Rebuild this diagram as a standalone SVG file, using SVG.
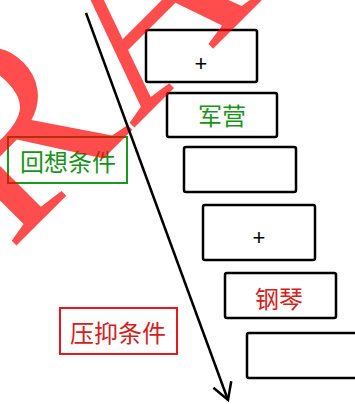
<svg xmlns="http://www.w3.org/2000/svg" width="355" height="404" viewBox="0 0 355 404">
<style>
.box{fill:#fff;stroke:#000;stroke-width:2.5}
.plus{font-family:"Liberation Sans",Arial,sans-serif;font-size:22px;fill:#000;text-anchor:middle;dominant-baseline:central}
.cjk{font-family:"Noto Sans CJK SC",sans-serif;font-size:24px;text-anchor:middle;dominant-baseline:central}
.green{fill:#179317}
.red{fill:#d42020}
.wm{font-family:"Liberation Serif",serif;font-size:260px;fill:#ff0000;fill-opacity:0.7}
</style>
<defs>
<marker id="arr" viewBox="0 0 22 22" markerWidth="22" markerHeight="22" refX="19" refY="11" orient="auto" markerUnits="userSpaceOnUse">
<path d="M2.5,1.5 L19,11 L2.5,20.5" fill="none" stroke="#000" stroke-width="2.5"/>
</marker>
</defs>
<rect width="355" height="404" fill="#fff"/>
<g id="n1"><rect class="box" x="146" y="30" width="111" height="52" rx="2"/><text class="plus" x="201" y="63">+</text></g>
<g id="n2"><rect class="box" x="167" y="93" width="110" height="44" rx="2"/><text class="cjk green" x="222" y="114">军营</text></g>
<g id="n3"><rect class="box" x="184" y="147" width="112" height="45" rx="2"/></g>
<g id="n4"><rect class="box" x="203" y="205" width="112" height="55" rx="2"/><text class="plus" x="259" y="237">+</text></g>
<g id="n5"><rect class="box" x="225" y="273" width="111" height="45" rx="2"/><text class="cjk red" x="279" y="297">钢琴</text></g>
<g id="n6"><rect class="box" x="247" y="333" width="112" height="45" rx="2"/></g>
<g id="recall"><rect x="8" y="137" width="119" height="46" fill="none" stroke="#1a9a1a" stroke-width="2"/><text class="cjk green" x="68" y="160">回想条件</text></g>
<g id="suppress"><rect x="60" y="308" width="117" height="46" fill="none" stroke="#e81818" stroke-width="2"/><text class="cjk red" x="118" y="331">压抑条件</text></g>
<text class="wm" transform="translate(10,252) rotate(-45)">RA</text>
<g id="connectors"><line x1="86" y1="13" x2="228" y2="400" stroke="#000" stroke-width="2.5" marker-end="url(#arr)"/></g>
</svg>
